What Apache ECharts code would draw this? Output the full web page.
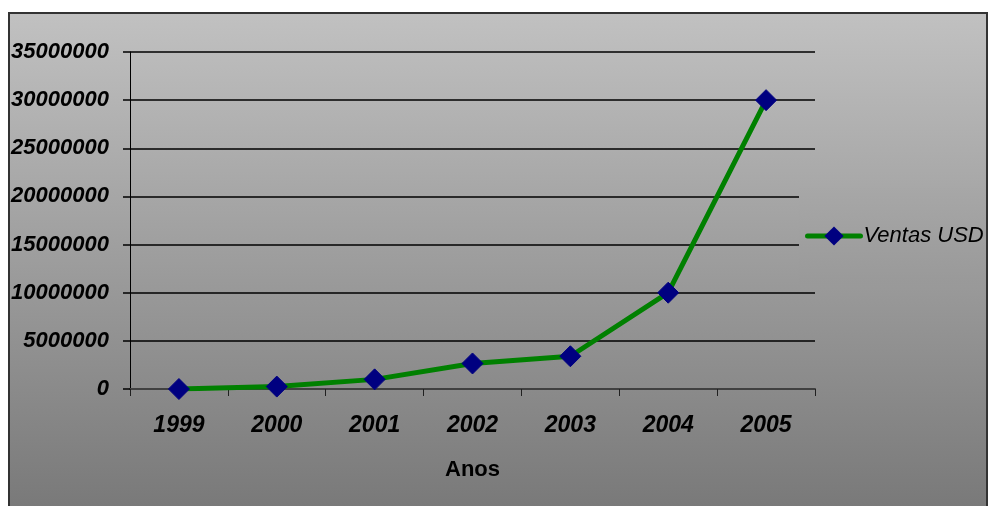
<!DOCTYPE html>
<html>
<head>
<meta charset="utf-8">
<script src="https://cdn.jsdelivr.net/npm/echarts@6/dist/echarts.min.js"></script>
<style>
  html, body { margin: 0; padding: 0; background: #ffffff; }
  #frame {
    position: absolute; left: 8px; top: 12px; width: 980px; height: 510px;
    box-sizing: border-box;
    background: linear-gradient(to bottom, #c1c1c1 0%, #777777 100%);
  }
  #border {
    position: absolute; left: 8px; top: 12px; width: 980px; height: 510px;
    box-sizing: border-box; border: 2px solid #333333; pointer-events: none;
  }
  #chart { position: absolute; left: 0; top: 0; width: 989px; height: 506px; }
</style>
</head>
<body>
<div id="frame"></div>
<div id="chart"></div>
<div id="border"></div>
<script>
const years = ['1999', '2000', '2001', '2002', '2003', '2004', '2005'];
const ventasUSD = [0, 250000, 1000000, 2650000, 3400000, 10000000, 30000000];
const seriesName = 'Ventas USD';
const xAxisName = 'Anos';

const chart = echarts.init(document.getElementById('chart'), null, { renderer: 'canvas' });
chart.setOption({
  animation: false,
  backgroundColor: 'transparent',
  textStyle: { fontFamily: 'Liberation Sans, Arial, sans-serif' },
  grid: { left: 130, right: 174, top: 52, bottom: 117, containLabel: false },
  legend: {
    data: [{ name: seriesName }],
    left: 799, top: 188,
    padding: [37, 0, 37, 6],
    itemWidth: 53, itemHeight: 24, itemGap: 0,
    backgroundColor: new echarts.graphic.LinearGradient(0, 0, 0, 1, [
      { offset: 0, color: 'rgb(167,167,167)' },
      { offset: 1, color: 'rgb(153,153,153)' }
    ]),
    lineStyle: { width: 5, cap: 'round', color: '#008000' },
    textStyle: { fontSize: 22, fontStyle: 'italic', color: '#000', padding: [0, 0, 0, -2] }
  },
  xAxis: {
    type: 'category',
    data: years,
    boundaryGap: true,
    name: xAxisName,
    nameLocation: 'middle',
    nameGap: 70,
    nameTextStyle: { fontSize: 22, fontWeight: 'bold', color: '#000' },
    axisLine: { lineStyle: { color: '#404040', width: 2 } },
    axisTick: { show: true, length: 7, alignWithLabel: false, lineStyle: { color: '#202020', width: 1 } },
    axisLabel: { fontSize: 23, fontWeight: 'bold', fontStyle: 'italic', color: '#000', margin: 25 },
    splitLine: { show: false }
  },
  yAxis: {
    type: 'value',
    min: 0, max: 35000000, interval: 5000000,
    axisLine: { show: true, lineStyle: { color: '#000', width: 1 } },
    axisTick: { show: true, length: 7, lineStyle: { color: '#000', width: 1.5 } },
    axisLabel: {
      fontSize: 22, fontWeight: 'bold', fontStyle: 'italic', color: '#000', margin: 21,
      formatter: function (v) { return String(v); }
    },
    splitLine: { show: true, lineStyle: { color: '#000', width: 1.5 } }
  },
  series: [{
    name: seriesName,
    type: 'line',
    data: ventasUSD,
    symbol: 'diamond',
    symbolSize: 21,
    showAllSymbol: true,
    lineStyle: { color: '#008000', width: 5 },
    itemStyle: { color: '#000080', borderColor: '#000080' },
    z: 5
  }]
});
</script>
</body>
</html>
